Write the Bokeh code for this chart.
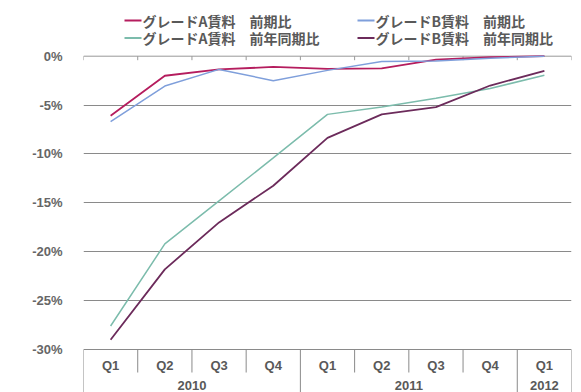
import math
from bokeh.plotting import figure
from bokeh.models import Range1d, FixedTicker, PrintfTickFormatter, Label
from bokeh.core.properties import value
from bokeh.embed import file_html
from bokeh.resources import INLINE

# ---- data ----
quarters = ["Q1", "Q2", "Q3", "Q4", "Q1", "Q2", "Q3", "Q4", "Q1"]
years = ["2010", "2011", "2012"]
year_counts = [4, 4, 1]
y_ticks = [0, -5, -10, -15, -20, -25, -30]

names = ["グレードA賃料　前期比", "グレードB賃料　前期比",
         "グレードA賃料　前年同期比", "グレードB賃料　前年同期比"]
a_qoq = [-6.1, -2.0, -1.35, -1.1, -1.3, -1.25, -0.35, -0.1, 0.0]
b_qoq = [-6.7, -3.05, -1.35, -2.5, -1.45, -0.55, -0.5, -0.2, 0.0]
a_yoy = [-27.6, -19.2, -14.8, -10.4, -5.95, -5.2, -4.3, -3.3, -1.95]
b_yoy = [-29.0, -21.8, -17.0, -13.25, -8.35, -5.95, -5.2, -3.0, -1.5]
series = [a_qoq, b_qoq, a_yoy, b_yoy]
colors = ["#B51D5E", "#7F9FDB", "#7CBCAC", "#6C2B5B"]
widths = [1.8, 1.5, 1.5, 1.8]

# ---- layout ----
W, H = 581, 392
LEFT, RIGHT = 83, 571
Y0_PX, Y30_PX = 55.7, 349.0
scale = (Y30_PX - Y0_PX) / 30.0
top = Y0_PX / scale
bottom = -30 - (H - Y30_PX) / scale
n = len(quarters)
xs = (RIGHT - LEFT) / n


def py(px):
    return top - px / scale


def pxx(px):
    return (px - LEFT) / xs


p = figure(width=W, height=H, output_backend="svg", toolbar_location=None,
           x_range=Range1d(0, n), y_range=Range1d(bottom, top),
           x_axis_location=None, min_border_left=LEFT, min_border_right=W - RIGHT,
           min_border_top=0, min_border_bottom=0)
p.outline_line_color = None
p.xgrid.visible = False
p.ygrid.ticker = FixedTicker(ticks=[-5, -10, -15, -20, -25, -30])
p.ygrid.grid_line_color = "#8A8A8A"
p.ygrid.grid_line_width = 1

ax = p.yaxis[0]
ax.ticker = FixedTicker(ticks=y_ticks)
ax.formatter = PrintfTickFormatter(format="%d%%")
ax.axis_line_color = None
ax.major_tick_line_color = None
ax.minor_tick_line_color = None
ax.major_label_standoff = 15
ax.major_label_text_font = "Liberation Sans"
ax.major_label_text_font_size = "13px"
ax.major_label_text_font_style = "bold"
ax.major_label_text_color = "#666666"

# zero axis line with ticks
p.segment(x0=[0], y0=[0], x1=[n], y1=[0], line_color="#999999", line_width=1)
p.segment(x0=list(range(n + 1)), y0=[0] * (n + 1), x1=list(range(n + 1)),
          y1=[py(Y0_PX + 4)] * (n + 1), line_color="#999999", line_width=1)

# category table
bounds = [0]
for c in year_counts:
    bounds.append(bounds[-1] + c)
inner = [i for i in range(n + 1) if i not in bounds]
p.segment(x0=inner, y0=[-30] * len(inner), x1=inner, y1=[py(372)] * len(inner),
          line_color="#8A8A8A", line_width=1)
p.segment(x0=bounds, y0=[-30] * len(bounds), x1=bounds, y1=[bottom] * len(bounds),
          line_color="#8A8A8A", line_width=1)
p.text(x=[i + 0.5 for i in range(n)], y=[py(365)] * n, text=quarters,
       text_font=value("Liberation Sans"), text_font_style="bold",
       text_font_size="13px", text_color="#595959",
       text_align="center", text_baseline="middle")
p.text(x=[(bounds[i] + bounds[i + 1]) / 2 for i in range(len(years))],
       y=[py(385)] * len(years), text=years,
       text_font=value("Liberation Sans"), text_font_style="bold",
       text_font_size="13px", text_color="#595959",
       text_align="center", text_baseline="middle")

# series
xc = [i + 0.5 for i in range(n)]
for s, c, w in zip(series, colors, widths):
    p.line(x=xc, y=s, line_color=c, line_width=w)

# legend
leg_x = [124, 357, 124, 357]
leg_y = [20, 20, 37.5, 37.5]
for name, c, lx, ly in zip(names, colors, leg_x, leg_y):
    p.segment(x0=[pxx(lx)], y0=[py(ly)], x1=[pxx(lx + 17)], y1=[py(ly)],
              line_color=c, line_width=2)
    p.text(x=[pxx(lx + 18)], y=[py(ly)], text=[name],
           text_font=value("Noto Sans CJK JP"), text_font_style="bold",
           text_font_size="14px", text_color="#595959",
           text_align="left", text_baseline="middle")

# y axis title
p.add_layout(Label(x=pxx(23), y=py(208), text="変動率 (%)", angle=math.pi / 2,
                   text_font="Noto Sans CJK JP", text_font_style="bold",
                   text_font_size="12px", text_color="#595959",
                   text_align="center", text_baseline="middle"))

open("out.html", "w").write(file_html(p, INLINE))
